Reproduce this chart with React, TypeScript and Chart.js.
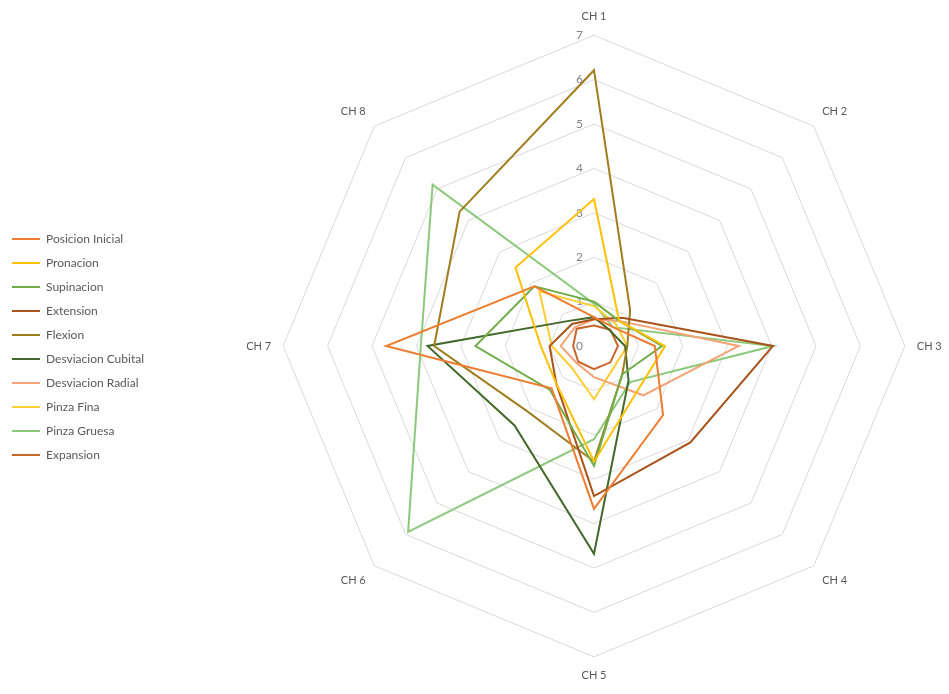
import React, { useEffect, useRef } from "react";
import { Chart, registerables } from "chart.js";

Chart.register(...registerables);

const categories = ["CH 1", "CH 2", "CH 3", "CH 4", "CH 5", "CH 6", "CH 7", "CH 8"];

const posicionInicial = [0.65, 0.6, 1.37, 2.2, 3.67, 1.35, 4.68, 1.9];
const pronacion = [3.31, 0.8, 1.6, 1.4, 2.6, 1.2, 1.2, 2.5];
const supinacion = [1.0, 0.8, 1.53, 0.9, 2.7, 1.4, 2.67, 1.9];
const extension = [0.6, 0.9, 4.03, 3.07, 3.38, 1.2, 1.0, 0.7];
const flexion = [6.21, 1.15, 0.75, 0.9, 2.6, 2.1, 3.6, 4.28];
const desviacionCubital = [0.65, 0.5, 0.7, 1.1, 4.68, 2.53, 3.75, 0.8];
const desviacionRadial = [0.6, 0.8, 3.26, 1.57, 0.7, 0.55, 0.75, 0.6];
const pinzaFina = [0.9, 0.7, 0.75, 0.65, 1.2, 0.7, 0.95, 1.74];
const pinzaGruesa = [0.95, 0.6, 4.03, 1.15, 2.1, 5.92, 3.9, 5.14];
const expansion = [0.46, 0.52, 0.54, 0.52, 0.52, 0.5, 0.47, 0.55];

const seriesNames = [
  "Posicion Inicial",
  "Pronacion",
  "Supinacion",
  "Extension",
  "Flexion",
  "Desviacion Cubital",
  "Desviacion Radial",
  "Pinza Fina",
  "Pinza Gruesa",
  "Expansion",
];
const seriesValues = [
  posicionInicial,
  pronacion,
  supinacion,
  extension,
  flexion,
  desviacionCubital,
  desviacionRadial,
  pinzaFina,
  pinzaGruesa,
  expansion,
];
const seriesColors = [
  "#ED7D31",
  "#FFC000",
  "#70AD47",
  "#A9531A",
  "#A07D1C",
  "#43682B",
  "#F3A374",
  "#FFCD33",
  "#8BC97A",
  "#C8652A",
];

const scaleMin = 0;
const scaleMax = 7;
const scaleStep = 1;

const FONT = "Lato, 'Open Sans', sans-serif";

const tickLabelPlugin = {
  id: "leftTickLabels",
  beforeDatasetsDraw(chart: any) {
    const scale = chart.scales.r;
    const ctx = chart.ctx;
    ctx.save();
    ctx.font = `12px ${FONT}`;
    ctx.fillStyle = "#858585";
    ctx.textAlign = "right";
    ctx.textBaseline = "middle";
    scale.ticks.forEach((t: any) => {
      const p = scale.getPointPositionForValue(0, t.value);
      ctx.fillText(String(t.value), p.x - 11, p.y);
    });
    ctx.restore();
  },
};

export default function App() {
  const canvasRef = useRef<HTMLCanvasElement | null>(null);

  useEffect(() => {
    if (!canvasRef.current) return;
    const chart = new Chart(canvasRef.current, {
      type: "radar",
      data: {
        labels: categories,
        datasets: seriesNames.map((name, i) => ({
          label: name,
          data: seriesValues[i],
          borderColor: seriesColors[i],
          backgroundColor: seriesColors[i],
          borderWidth: 2,
          fill: false,
          pointRadius: 0,
          pointHoverRadius: 0,
          tension: 0,
        })),
      },
      options: {
        animation: false,
        responsive: true,
        maintainAspectRatio: false,
        layout: { padding: { left: -8, right: 0, top: 3, bottom: 3 } },
        plugins: {
          tooltip: { enabled: false },
          legend: {
            position: "left",
            align: "center",
            labels: {
              usePointStyle: true,
              pointStyle: "line",
              pointStyleWidth: 28,
              padding: 12,
              color: "#595959",
              font: { family: FONT, size: 12 },
            },
          },
        },
        scales: {
          r: {
            min: scaleMin,
            max: scaleMax,
            ticks: { stepSize: scaleStep, display: false },
            grid: { color: "#D9D9D9", lineWidth: 1, circular: false },
            angleLines: { display: false },
            pointLabels: {
              color: "#595959",
              font: { family: FONT, size: 11 },
              padding: 12,
            },
          },
        },
      },
      plugins: [tickLabelPlugin],
    });
    return () => chart.destroy();
  }, []);

  return (
    <div style={{ width: "941px", height: "678px", overflow: "hidden" }}>
      <div style={{ position: "relative", width: "1027px", height: "678px" }}>
        <canvas ref={canvasRef} />
      </div>
    </div>
  );
}
